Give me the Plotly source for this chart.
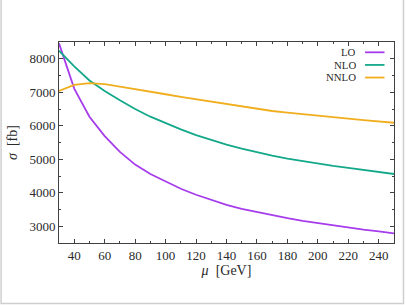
import plotly.graph_objects as go

mu = [30, 40, 50, 60, 70, 80, 90, 100, 110, 120, 130, 140, 150, 160, 170, 180,
      190, 200, 210, 220, 230, 240, 250]
lo = [8460, 7110, 6270, 5690, 5220, 4840, 4560, 4330, 4120, 3940, 3780, 3640,
      3520, 3420, 3330, 3240, 3160, 3090, 3020, 2960, 2900, 2850, 2790]
nlo = [8240, 7770, 7350, 7040, 6760, 6500, 6270, 6070, 5890, 5720, 5570, 5440,
       5320, 5210, 5110, 5020, 4940, 4870, 4800, 4740, 4680, 4620, 4560]
nnlo = [7040, 7220, 7270, 7240, 7170, 7100, 7020, 6940, 6860, 6790, 6710, 6640,
        6570, 6500, 6440, 6390, 6340, 6300, 6250, 6210, 6170, 6130, 6090]

names = ["LO", "NLO", "NNLO"]
series = [lo, nlo, nnlo]
colors = ["#a63ceb", "#14a88a", "#f0ae1e"]

FONT = "'Liberation Serif', 'Times New Roman', serif"
TXT = "#2a2a2a"

fig = go.Figure()
for n, s, c in zip(names, series, colors):
    fig.add_trace(go.Scatter(x=mu, y=s, name=n, mode="lines",
                             line=dict(color=c, width=1.8), showlegend=False))

axis_common = dict(
    showgrid=False, zeroline=False, showline=True, linecolor="#404040", linewidth=1,
    mirror="ticks", ticks="inside", ticklen=4, tickcolor="#404040", tickwidth=1,
    tickfont=dict(family=FONT, size=13, color=TXT),
)
fig.update_xaxes(range=[30, 250], dtick=20, tick0=40,
                 minor=dict(ticks="inside", ticklen=2, dtick=10, tick0=30, tickcolor="#404040"),
                 title=dict(text="<i>μ</i>  [GeV]", font=dict(family=FONT, size=14, color=TXT), standoff=0),
                 **axis_common)
fig.update_yaxes(range=[2500, 8500], dtick=1000, tick0=3000,
                 minor=dict(ticks="inside", ticklen=2, dtick=500, tickcolor="#404040"),
                 title=dict(text="<i>σ</i>  [fb]", font=dict(family=FONT, size=14, color=TXT), standoff=8),
                 **axis_common)

# plot area in px: x 59..394.5, y 42..242.7
L, R, T, B = 59, 394.5, 42, 242.7
def px(x):
    return (x - L) / (R - L)
def py(y):
    return (B - y) / (B - T)

shapes = []
annotations = []
for i, (n, c) in enumerate(zip(names, colors)):
    yy = 51.5 + 12.6 * i
    annotations.append(dict(x=px(357), y=py(yy), xref="paper", yref="paper",
                            text=n, showarrow=False, xanchor="right", yanchor="middle",
                            height=11, valign="middle", borderpad=0,
                            font=dict(family=FONT, size=10.8, color=TXT)))
    shapes.append(dict(type="line", xref="paper", yref="paper",
                       x0=px(365.5), x1=px(385), y0=py(yy + 0.8), y1=py(yy + 0.8),
                       line=dict(color=c, width=1.8)))

# light page border
shapes.append(dict(type="rect", xref="paper", yref="paper",
                   x0=px(1), x1=px(404), y0=py(303), y1=py(-2),
                   line=dict(color="#cfcfcf", width=1.5), layer="below"))

fig.update_layout(
    width=407, height=305,
    margin=dict(l=L, r=407 - R, t=T, b=305 - B),
    paper_bgcolor="white", plot_bgcolor="white",
    shapes=shapes, annotations=annotations,
    font=dict(family=FONT, color=TXT),
)

fig.write_html("out.html", config={"displayModeBar": False},
               post_script="document.body.style.margin='0px';document.body.style.overflow='hidden';")
